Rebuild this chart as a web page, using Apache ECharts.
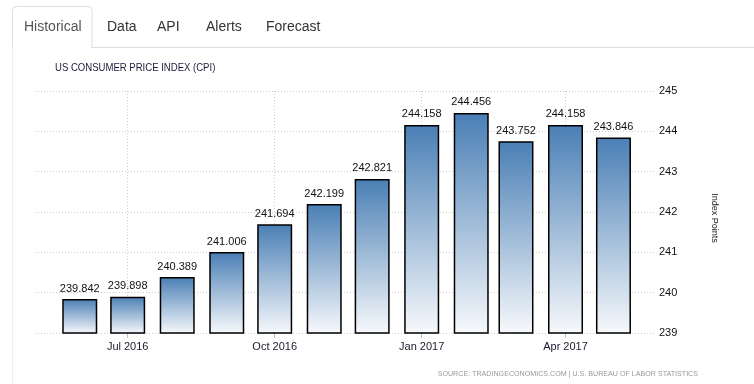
<!DOCTYPE html>
<html>
<head>
<meta charset="utf-8">
<script src="https://cdn.jsdelivr.net/npm/echarts@6/dist/echarts.min.js"></script>
<style>
html,body{margin:0;padding:0;background:#fff;}
#chart{width:754px;height:384px;}
</style>
</head>
<body>
<div id="chart"></div>
<script>
// ---- data ----
var months = ['2016-06-01','2016-07-01','2016-08-01','2016-09-01','2016-10-01','2016-11-01',
              '2016-12-01','2017-01-01','2017-02-01','2017-03-01','2017-04-01','2017-05-01'];
var cpiValues = [239.842, 239.898, 240.389, 241.006, 241.694, 242.199,
                 242.821, 244.158, 244.456, 243.752, 244.158, 243.846];
var xTickDates = ['2016-07-01','2016-10-01','2017-01-01','2017-04-01'];
var yTicks = [239, 240, 241, 242, 243, 244, 245];
var tabLabels = ['Historical','Data','API','Alerts','Forecast'];
var monthNames = ['Jan','Feb','Mar','Apr','May','Jun','Jul','Aug','Sep','Oct','Nov','Dec'];

function toTs(s){ var p = s.split('-'); return new Date(+p[0], +p[1]-1, +p[2]).getTime(); }

var chart = echarts.init(document.getElementById('chart'), null, {renderer:'canvas'});

var seriesData = months.map(function(m, i){ return [toTs(m), cpiValues[i]]; });
var tickTs = xTickDates.map(toTs);

var tabX = [24, 107, 157, 206, 266];
var graphics = [
  {type:'line', shape:{x1:12.5,y1:47,x2:12.5,y2:384}, style:{stroke:'#eeeeee',lineWidth:1}, silent:true},
  {type:'line', shape:{x1:92,y1:47.5,x2:754,y2:47.5}, style:{stroke:'#dddddd',lineWidth:1}, silent:true},
  {type:'rect', shape:{x:12.5,y:6.5,width:79.5,height:41,r:[4,4,0,0]}, style:{fill:'#fff',stroke:'#dddddd',lineWidth:1}, silent:true},
  {type:'line', shape:{x1:13,y1:47.5,x2:91.5,y2:47.5}, style:{stroke:'#ffffff',lineWidth:1.5}, silent:true},
  {type:'text', x:55, y:68, scaleX:0.91, style:{text:'US CONSUMER PRICE INDEX (CPI)', fontSize:10.5, fontFamily:'"Liberation Sans",Arial,sans-serif', fill:'#1a1a3a', verticalAlign:'middle'}, silent:true},
  {type:'text', x:714, y:218, rotation:-Math.PI/2, style:{text:'Index Points', fontSize:9, fontFamily:'"Liberation Sans",Arial,sans-serif', fill:'#222', align:'center', verticalAlign:'middle'}, silent:true},
  {type:'text', x:698, y:374, scaleX:0.89, style:{text:'SOURCE: TRADINGECONOMICS.COM | U.S. BUREAU OF LABOR STATISTICS', fontSize:8, fontFamily:'"Liberation Sans",Arial,sans-serif', fill:'#999', align:'right', verticalAlign:'middle'}, silent:true}
];
tabLabels.forEach(function(t, i){
  graphics.push({type:'text', x:tabX[i], y:27, style:{text:t, fontSize:14, fontFamily:'"Liberation Sans",Arial,Helvetica,sans-serif', fill: i===0 ? '#555555' : '#333333', verticalAlign:'middle'}, silent:true});
});

var option = {
  animation:false,
  backgroundColor:'#fff',
  grid:{left:35, right:99, top:91, bottom:51, containLabel:false},
  xAxis:{
    type:'value',
    min: toTs('2016-05-04'),
    max: toTs('2017-05-27'),
    axisLine:{show:false},
    axisTick:{show:true, customValues: tickTs, length:5, lineStyle:{color:'#c0c0c0'}},
    axisLabel:{
      customValues: tickTs,
      formatter:function(v){ var d = new Date(v); return monthNames[d.getMonth()] + ' ' + d.getFullYear(); },
      fontSize:11, color:'#1a1a2e', margin:8, fontFamily:'"Liberation Sans",Arial,sans-serif'
    },
    splitLine:{show:true, lineStyle:{color:'#cccccc', type:[1,2], width:1}}
  },
  yAxis:{
    type:'value',
    position:'right',
    min:yTicks[0], max:yTicks[yTicks.length-1], interval:1,
    axisLine:{show:false},
    axisTick:{show:false},
    axisLabel:{fontSize:11, color:'#111', margin:4, fontFamily:'"Liberation Sans",Arial,sans-serif'},
    splitLine:{show:true, lineStyle:{color:'#cccccc', type:[1,2], width:1}}
  },
  series:[{
    type:'bar',
    data: seriesData,
    barWidth:35,
    itemStyle:{
      color: new echarts.graphic.LinearGradient(0,0,0,1,[{offset:0,color:'#4a7fb5'},{offset:1,color:'#f7f9fc'}]),
      borderColor:'#000', borderWidth:1.5
    },
    label:{show:true, position:'top', distance:5, fontSize:11, color:'#111',
      fontFamily:'"Liberation Sans",Arial,sans-serif',
      formatter:function(p){ return p.value[1].toFixed(3); }}
  }],
  graphic: graphics
};
chart.setOption(option);
</script>
</body>
</html>
